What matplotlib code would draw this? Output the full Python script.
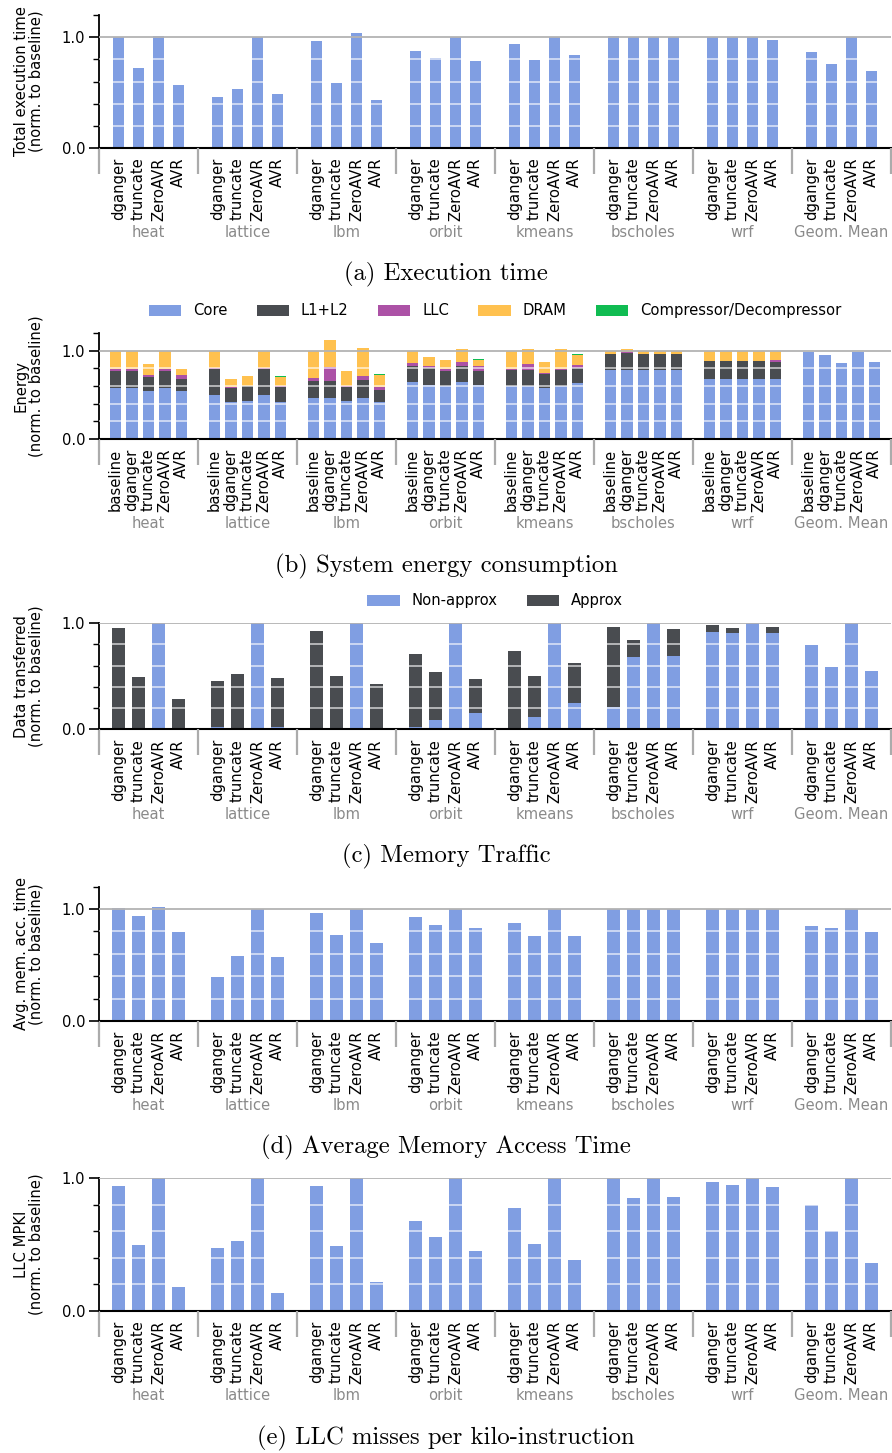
import matplotlib
matplotlib.use("Agg")
import matplotlib.pyplot as plt
import numpy as np
from matplotlib.ticker import FixedLocator

# ---------------- data ----------------
groups = ["heat", "lattice", "lbm", "orbit", "kmeans", "bscholes", "wrf", "Geom. Mean"]
configs4 = ["dganger", "truncate", "ZeroAVR", "AVR"]
configs5 = ["baseline", "dganger", "truncate", "ZeroAVR", "AVR"]

# (a) execution time, per group: dganger, truncate, ZeroAVR, AVR
exec_time = [
    [1.00, 0.724, 1.012, 0.571],
    [0.462, 0.535, 1.00, 0.489],
    [0.967, 0.589, 1.039, 0.435],
    [0.877, 0.814, 1.00, 0.787],
    [0.940, 0.796, 1.00, 0.841],
    [1.012, 1.00, 1.00, 1.00],
    [1.00, 1.00, 1.00, 0.976],
    [0.868, 0.760, 1.00, 0.697],
]

# (b) energy segments, per group: baseline, dganger, truncate, ZeroAVR, AVR
energy_core = [
    [0.576, 0.576, 0.542, 0.576, 0.542],
    [0.496, 0.417, 0.428, 0.496, 0.417],
    [0.462, 0.462, 0.428, 0.462, 0.417],
    [0.644, 0.610, 0.598, 0.644, 0.610],
    [0.598, 0.598, 0.576, 0.598, 0.633],
    [0.780, 0.780, 0.780, 0.780, 0.780],
    [0.678, 0.678, 0.678, 0.678, 0.678],
    [0.990, 0.955, 0.864, 0.990, 0.875],
]
energy_l1l2 = [
    [0.197, 0.197, 0.159, 0.197, 0.136],
    [0.296, 0.159, 0.170, 0.296, 0.170],
    [0.193, 0.193, 0.159, 0.205, 0.136],
    [0.182, 0.193, 0.171, 0.182, 0.159],
    [0.182, 0.182, 0.159, 0.182, 0.170],
    [0.182, 0.193, 0.182, 0.182, 0.182],
    [0.201, 0.201, 0.201, 0.201, 0.193],
    [0.0, 0.0, 0.0, 0.0, 0.0],
]
energy_llc = [
    [0.015, 0.019, 0.022, 0.019, 0.045],
    [0.008, 0.011, 0.006, 0.008, 0.015],
    [0.034, 0.159, 0.011, 0.045, 0.034],
    [0.034, 0.023, 0.023, 0.045, 0.057],
    [0.010, 0.068, 0.011, 0.010, 0.034],
    [0.0, 0.012, 0.0, 0.004, 0.004],
    [0.007, 0.007, 0.007, 0.007, 0.023],
    [0.0, 0.0, 0.0, 0.0, 0.0],
]
energy_dram = [
    [0.212, 0.208, 0.125, 0.208, 0.069],
    [0.200, 0.091, 0.113, 0.200, 0.098],
    [0.311, 0.307, 0.171, 0.318, 0.136],
    [0.140, 0.102, 0.102, 0.148, 0.068],
    [0.210, 0.171, 0.125, 0.229, 0.114],
    [0.038, 0.034, 0.033, 0.034, 0.034],
    [0.114, 0.114, 0.114, 0.114, 0.106],
    [0.0, 0.0, 0.0, 0.0, 0.0],
]
energy_comp = [
    [0.0, 0.0, 0.0, 0.0, 0.0],
    [0.0, 0.0, 0.0, 0.0, 0.012],
    [0.0, 0.0, 0.0, 0.0, 0.012],
    [0.0, 0.0, 0.0, 0.0, 0.011],
    [0.0, 0.0, 0.0, 0.0, 0.011],
    [0.0, 0.0, 0.0, 0.0, 0.0],
    [0.0, 0.0, 0.0, 0.0, 0.0],
    [0.0, 0.0, 0.0, 0.0, 0.0],
]

# (c) memory traffic: non-approx part and total, per group: dganger, truncate, ZeroAVR, AVR
traffic_nonapprox = [
    [0.0, 0.0, 1.0, 0.0],
    [0.022, 0.0, 1.0, 0.022],
    [0.0, 0.0, 1.0, 0.0],
    [0.022, 0.088, 1.0, 0.154],
    [0.013, 0.116, 1.0, 0.248],
    [0.211, 0.682, 1.0, 0.692],
    [0.918, 0.909, 1.0, 0.909],
    [0.796, 0.588, 1.0, 0.550],
]
traffic_total = [
    [0.956, 0.494, 1.0, 0.286],
    [0.456, 0.522, 1.0, 0.484],
    [0.928, 0.503, 1.0, 0.428],
    [0.711, 0.541, 1.0, 0.475],
    [0.739, 0.503, 1.0, 0.626],
    [0.965, 0.843, 1.0, 0.947],
    [0.984, 0.956, 1.0, 0.965],
    [0.796, 0.588, 1.0, 0.550],
]

# (d) average memory access time
amat = [
    [1.012, 0.940, 1.021, 0.793],
    [0.392, 0.581, 1.00, 0.572],
    [0.967, 0.769, 1.00, 0.698],
    [0.931, 0.859, 1.00, 0.832],
    [0.877, 0.760, 1.00, 0.760],
    [1.00, 1.00, 1.00, 1.00],
    [1.00, 1.00, 1.00, 1.00],
    [0.850, 0.832, 1.00, 0.793],
]

# (e) LLC MPKI
mpki = [
    [0.942, 0.499, 1.00, 0.183],
    [0.476, 0.529, 1.00, 0.138],
    [0.942, 0.491, 1.00, 0.221],
    [0.679, 0.559, 1.00, 0.454],
    [0.777, 0.506, 1.00, 0.386],
    [1.00, 0.852, 1.00, 0.860],
    [0.972, 0.950, 1.00, 0.935],
    [0.797, 0.599, 1.00, 0.363],
]

# ---------------- style ----------------
C_CORE = "#809ee2"
C_L12 = "#494c50"
C_LLC = "#ac52a6"
C_DRAM = "#ffc14f"
C_COMP = "#10bc52"
FS = 10.6
GROUP_COL = "#8a8a8a"
SEP_COL = "#ababab"

plt.rcParams["font.family"] = ["DejaVu Sans"]

W, H = 892, 1453
fig = plt.figure(figsize=(W / 100, H / 100), dpi=100)


def make_axes(top_px, bottom_px):
    return fig.add_axes([99 / W, 1 - bottom_px / H, 792 / W, (bottom_px - top_px) / H])


def style_axes(ax, nper, labels, ymax, ylabel):
    slots = nper + 1
    ng = len(groups)
    ax.set_xlim(0, ng * slots)
    ax.set_ylim(0, ymax)
    for s in ["top", "right"]:
        ax.spines[s].set_visible(False)
    ax.spines["left"].set_linewidth(1.3)
    ax.spines["bottom"].set_linewidth(1.5)
    ax.spines["left"].set_color("black")
    ax.spines["bottom"].set_color("black")
    # y ticks
    ax.set_yticks([0.0, 1.0])
    ax.set_yticklabels(["0.0", "1.0"], fontsize=FS)
    minors = [0.2, 0.4, 0.6, 0.8] + ([1.2] if ymax > 1.1 else [])
    ax.yaxis.set_minor_locator(FixedLocator(minors))
    ax.tick_params(axis="y", which="major", length=7, width=1.2, direction="out", pad=3)
    ax.tick_params(axis="y", which="minor", length=4.5, width=1.0, direction="out")
    # grid
    ax.set_axisbelow(False)
    ax.axhline(1.0, color="#b3b3b3", lw=1.3, zorder=3)
    for m in [0.2, 0.4, 0.6, 0.8]:
        ax.axhline(m, color="white", lw=1.1, alpha=0.75, zorder=3)
    # x ticks: group separators as major, bars as minor
    seps = [g * slots for g in range(ng + 1)]
    ax.set_xticks(seps)
    ax.set_xticklabels([""] * len(seps))
    ax.tick_params(axis="x", which="major", length=19, width=1.6, color=SEP_COL)
    pos = []
    labs = []
    for g in range(ng):
        for j in range(nper):
            pos.append(g * slots + 1 + j)
            labs.append(labels[j])
    ax.set_xticks(pos, minor=True)
    ax.set_xticklabels(labs, minor=True, rotation=90, fontsize=FS, va="top", ha="center")
    ax.tick_params(axis="x", which="minor", length=0, pad=7)
    for g in range(ng):
        ax.annotate(groups[g], xy=(g * slots + slots / 2, 0), xycoords=("data", "axes fraction"),
                    xytext=(0, -61), textcoords="offset points", ha="center", va="center",
                    fontsize=FS, color=GROUP_COL)
    ax.set_ylabel(ylabel, fontsize=FS, linespacing=1.0, labelpad=13)


def xpos(nper):
    slots = nper + 1
    return [[g * slots + 1 + j for j in range(nper)] for g in range(len(groups))]


def caption(ypx, text):
    fig.text(0.5, 1 - ypx / H, text, ha="center", va="center", fontsize=17.8, family="cmr10")


# (a)
ax = make_axes(15, 148)
X = xpos(4)
for g in range(len(groups)):
    ax.bar(X[g], exec_time[g], width=0.56, color=C_CORE, zorder=1)
style_axes(ax, 4, configs4, 1.2, "Total execution time\n(norm. to baseline)")
caption(274, "(a) Execution time")

# (b)
ax = make_axes(333, 439)
X = xpos(5)
for g in range(len(groups)):
    core = np.array(energy_core[g])
    l12 = np.array(energy_l1l2[g])
    llc = np.array(energy_llc[g])
    dram = np.array(energy_dram[g])
    comp = np.array(energy_comp[g])
    b = np.zeros(5)
    kw = dict(width=0.67, zorder=1)
    h1 = ax.bar(X[g], core, bottom=b, color=C_CORE, label="Core", **kw); b = b + core
    h2 = ax.bar(X[g], l12, bottom=b, color=C_L12, label="L1+L2", **kw); b = b + l12
    h3 = ax.bar(X[g], llc, bottom=b, color=C_LLC, label="LLC", **kw); b = b + llc
    h4 = ax.bar(X[g], dram, bottom=b, color=C_DRAM, label="DRAM", **kw); b = b + dram
    h5 = ax.bar(X[g], comp, bottom=b, color=C_COMP, label="Compressor/Decompressor", **kw)
style_axes(ax, 5, configs5, 1.2, "Energy\n(norm. to baseline)")
ax.legend([h1, h2, h3, h4, h5], ["Core", "L1+L2", "LLC", "DRAM", "Compressor/Decompressor"],
          loc="center", bbox_to_anchor=(0.5, 1 + 22 / 106), ncol=5, frameon=False,
          fontsize=FS, handlelength=2.2, handleheight=0.8, columnspacing=2.0, handletextpad=0.8)
caption(566, "(b) System energy consumption")

# (c)
ax = make_axes(623.3, 729.3)
X = xpos(4)
for g in range(len(groups)):
    na = np.array(traffic_nonapprox[g])
    tot = np.array(traffic_total[g])
    c1 = ax.bar(X[g], na, width=0.66, color=C_CORE, zorder=1)
    c2 = ax.bar(X[g], tot - na, bottom=na, width=0.66, color=C_L12, zorder=1)
style_axes(ax, 4, configs4, 1.0, "Data transferred\n(norm. to baseline)")
ax.legend([c1, c2], ["Non-approx", "Approx"], loc="center", bbox_to_anchor=(0.5, 1 + 22.3 / 106),
          ncol=2, frameon=False, fontsize=FS, handlelength=2.2, handleheight=0.8,
          columnspacing=2.0, handletextpad=0.8)
caption(856, "(c) Memory Traffic")

# (d)
ax = make_axes(886.6, 1021)
X = xpos(4)
for g in range(len(groups)):
    ax.bar(X[g], amat[g], width=0.66, color=C_CORE, zorder=1)
style_axes(ax, 4, configs4, 1.2, "Avg. mem. acc. time\n(norm. to baseline)")
caption(1147, "(d) Average Memory Access Time")

# (e)
ax = make_axes(1178, 1311)
X = xpos(4)
for g in range(len(groups)):
    ax.bar(X[g], mpki[g], width=0.66, color=C_CORE, zorder=1)
style_axes(ax, 4, configs4, 1.0, "LLC MPKI\n(norm. to baseline)")
caption(1438, "(e) LLC misses per kilo-instruction")

fig.savefig("out.png", dpi=100)
